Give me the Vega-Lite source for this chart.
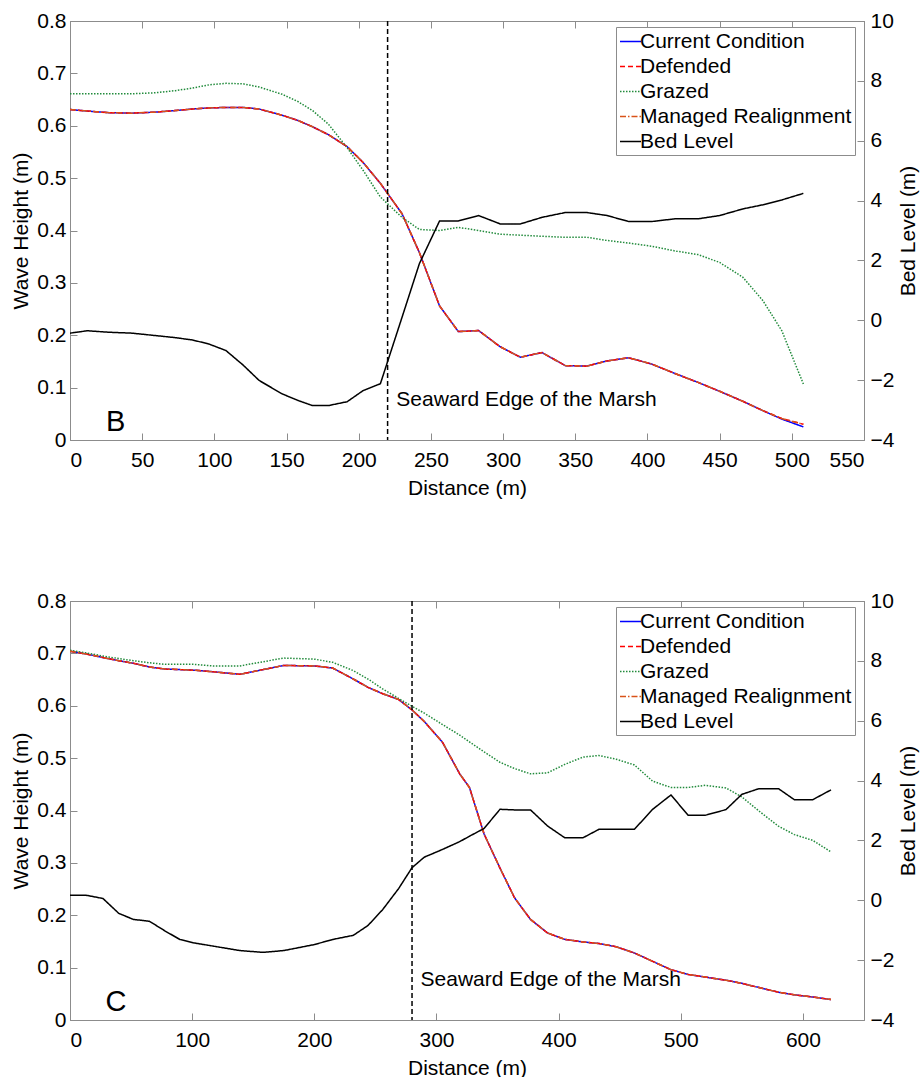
{
  "$schema": "https://vega.github.io/schema/vega-lite/v6.json",
  "padding": {"left": 10, "top": 9, "right": 0, "bottom": 5},
  "datasets": {
    "B": [
      {"d":0,"Current Condition":0.631,"Defended":0.631,"Grazed":0.661,"Managed Realignment":0.631,"Bed Level":-0.43},
      {"d":12,"Current Condition":0.628,"Defended":0.628,"Grazed":0.661,"Managed Realignment":0.628,"Bed Level":-0.35},
      {"d":27,"Current Condition":0.625,"Defended":0.625,"Grazed":0.661,"Managed Realignment":0.625,"Bed Level":-0.40},
      {"d":43,"Current Condition":0.624,"Defended":0.624,"Grazed":0.661,"Managed Realignment":0.624,"Bed Level":-0.43},
      {"d":59,"Current Condition":0.626,"Defended":0.626,"Grazed":0.663,"Managed Realignment":0.626,"Bed Level":-0.51},
      {"d":73,"Current Condition":0.629,"Defended":0.629,"Grazed":0.667,"Managed Realignment":0.629,"Bed Level":-0.58},
      {"d":85,"Current Condition":0.632,"Defended":0.632,"Grazed":0.672,"Managed Realignment":0.632,"Bed Level":-0.66},
      {"d":96,"Current Condition":0.634,"Defended":0.634,"Grazed":0.678,"Managed Realignment":0.634,"Bed Level":-0.79},
      {"d":108,"Current Condition":0.635,"Defended":0.635,"Grazed":0.681,"Managed Realignment":0.635,"Bed Level":-1.01},
      {"d":120,"Current Condition":0.635,"Defended":0.635,"Grazed":0.680,"Managed Realignment":0.635,"Bed Level":-1.50},
      {"d":131,"Current Condition":0.632,"Defended":0.632,"Grazed":0.674,"Managed Realignment":0.632,"Bed Level":-2.01},
      {"d":147,"Current Condition":0.620,"Defended":0.620,"Grazed":0.660,"Managed Realignment":0.620,"Bed Level":-2.46},
      {"d":158,"Current Condition":0.610,"Defended":0.610,"Grazed":0.646,"Managed Realignment":0.610,"Bed Level":-2.68},
      {"d":168,"Current Condition":0.598,"Defended":0.598,"Grazed":0.629,"Managed Realignment":0.598,"Bed Level":-2.85},
      {"d":179,"Current Condition":0.583,"Defended":0.583,"Grazed":0.603,"Managed Realignment":0.583,"Bed Level":-2.85},
      {"d":192,"Current Condition":0.560,"Defended":0.560,"Grazed":0.558,"Managed Realignment":0.560,"Bed Level":-2.72},
      {"d":203,"Current Condition":0.530,"Defended":0.530,"Grazed":0.515,"Managed Realignment":0.530,"Bed Level":-2.35},
      {"d":215,"Current Condition":0.490,"Defended":0.490,"Grazed":0.464,"Managed Realignment":0.490,"Bed Level":-2.12},
      {"d":230,"Current Condition":0.432,"Defended":0.432,"Grazed":0.425,"Managed Realignment":0.432,"Bed Level":0.10},
      {"d":242,"Current Condition":0.358,"Defended":0.358,"Grazed":0.402,"Managed Realignment":0.358,"Bed Level":1.89},
      {"d":256,"Current Condition":0.256,"Defended":0.256,"Grazed":0.400,"Managed Realignment":0.256,"Bed Level":3.32},
      {"d":269,"Current Condition":0.207,"Defended":0.207,"Grazed":0.406,"Managed Realignment":0.207,"Bed Level":3.32},
      {"d":283,"Current Condition":0.209,"Defended":0.209,"Grazed":0.400,"Managed Realignment":0.209,"Bed Level":3.50},
      {"d":298,"Current Condition":0.178,"Defended":0.178,"Grazed":0.393,"Managed Realignment":0.178,"Bed Level":3.22},
      {"d":312,"Current Condition":0.158,"Defended":0.158,"Grazed":0.391,"Managed Realignment":0.158,"Bed Level":3.22},
      {"d":327,"Current Condition":0.167,"Defended":0.167,"Grazed":0.389,"Managed Realignment":0.167,"Bed Level":3.44},
      {"d":343,"Current Condition":0.142,"Defended":0.142,"Grazed":0.387,"Managed Realignment":0.142,"Bed Level":3.60},
      {"d":358,"Current Condition":0.141,"Defended":0.141,"Grazed":0.387,"Managed Realignment":0.141,"Bed Level":3.60},
      {"d":372,"Current Condition":0.151,"Defended":0.151,"Grazed":0.381,"Managed Realignment":0.151,"Bed Level":3.50},
      {"d":387,"Current Condition":0.157,"Defended":0.157,"Grazed":0.376,"Managed Realignment":0.157,"Bed Level":3.30},
      {"d":403,"Current Condition":0.145,"Defended":0.145,"Grazed":0.370,"Managed Realignment":0.145,"Bed Level":3.30},
      {"d":419,"Current Condition":0.127,"Defended":0.127,"Grazed":0.361,"Managed Realignment":0.127,"Bed Level":3.39},
      {"d":435,"Current Condition":0.110,"Defended":0.110,"Grazed":0.354,"Managed Realignment":0.110,"Bed Level":3.39},
      {"d":450,"Current Condition":0.093,"Defended":0.093,"Grazed":0.339,"Managed Realignment":0.093,"Bed Level":3.50},
      {"d":466,"Current Condition":0.074,"Defended":0.074,"Grazed":0.311,"Managed Realignment":0.074,"Bed Level":3.72},
      {"d":480,"Current Condition":0.056,"Defended":0.056,"Grazed":0.266,"Managed Realignment":0.056,"Bed Level":3.86},
      {"d":493,"Current Condition":0.040,"Defended":0.041,"Grazed":0.209,"Managed Realignment":0.041,"Bed Level":4.02},
      {"d":508,"Current Condition":0.025,"Defended":0.030,"Grazed":0.107,"Managed Realignment":0.030,"Bed Level":4.24}
    ],
    "C": [
      {"d":0,"Current Condition":0.704,"Defended":0.704,"Grazed":0.706,"Managed Realignment":0.704,"Bed Level":0.17},
      {"d":13,"Current Condition":0.699,"Defended":0.699,"Grazed":0.701,"Managed Realignment":0.699,"Bed Level":0.17},
      {"d":27,"Current Condition":0.692,"Defended":0.692,"Grazed":0.695,"Managed Realignment":0.692,"Bed Level":0.06},
      {"d":40,"Current Condition":0.686,"Defended":0.686,"Grazed":0.690,"Managed Realignment":0.686,"Bed Level":-0.44},
      {"d":52,"Current Condition":0.681,"Defended":0.681,"Grazed":0.686,"Managed Realignment":0.681,"Bed Level":-0.64},
      {"d":65,"Current Condition":0.674,"Defended":0.674,"Grazed":0.682,"Managed Realignment":0.674,"Bed Level":-0.70},
      {"d":78,"Current Condition":0.670,"Defended":0.670,"Grazed":0.679,"Managed Realignment":0.670,"Bed Level":-1.03},
      {"d":90,"Current Condition":0.669,"Defended":0.669,"Grazed":0.679,"Managed Realignment":0.669,"Bed Level":-1.31},
      {"d":101,"Current Condition":0.668,"Defended":0.668,"Grazed":0.679,"Managed Realignment":0.668,"Bed Level":-1.42},
      {"d":117,"Current Condition":0.665,"Defended":0.665,"Grazed":0.676,"Managed Realignment":0.665,"Bed Level":-1.53},
      {"d":139,"Current Condition":0.660,"Defended":0.660,"Grazed":0.676,"Managed Realignment":0.660,"Bed Level":-1.68},
      {"d":158,"Current Condition":0.669,"Defended":0.669,"Grazed":0.684,"Managed Realignment":0.669,"Bed Level":-1.74},
      {"d":175,"Current Condition":0.677,"Defended":0.677,"Grazed":0.691,"Managed Realignment":0.677,"Bed Level":-1.68},
      {"d":200,"Current Condition":0.676,"Defended":0.676,"Grazed":0.689,"Managed Realignment":0.676,"Bed Level":-1.48},
      {"d":215,"Current Condition":0.672,"Defended":0.672,"Grazed":0.683,"Managed Realignment":0.672,"Bed Level":-1.31},
      {"d":232,"Current Condition":0.651,"Defended":0.651,"Grazed":0.667,"Managed Realignment":0.651,"Bed Level":-1.17},
      {"d":244,"Current Condition":0.635,"Defended":0.635,"Grazed":0.651,"Managed Realignment":0.635,"Bed Level":-0.84},
      {"d":256,"Current Condition":0.623,"Defended":0.623,"Grazed":0.632,"Managed Realignment":0.623,"Bed Level":-0.31},
      {"d":269,"Current Condition":0.612,"Defended":0.612,"Grazed":0.614,"Managed Realignment":0.612,"Bed Level":0.39},
      {"d":280,"Current Condition":0.592,"Defended":0.592,"Grazed":0.599,"Managed Realignment":0.592,"Bed Level":1.09},
      {"d":290,"Current Condition":0.570,"Defended":0.570,"Grazed":0.586,"Managed Realignment":0.570,"Bed Level":1.44},
      {"d":305,"Current Condition":0.530,"Defended":0.530,"Grazed":0.564,"Managed Realignment":0.530,"Bed Level":1.70},
      {"d":319,"Current Condition":0.470,"Defended":0.470,"Grazed":0.544,"Managed Realignment":0.470,"Bed Level":1.96},
      {"d":327,"Current Condition":0.444,"Defended":0.444,"Grazed":0.531,"Managed Realignment":0.444,"Bed Level":2.14},
      {"d":339,"Current Condition":0.355,"Defended":0.355,"Grazed":0.512,"Managed Realignment":0.355,"Bed Level":2.40},
      {"d":352,"Current Condition":0.290,"Defended":0.290,"Grazed":0.492,"Managed Realignment":0.290,"Bed Level":3.04},
      {"d":364,"Current Condition":0.233,"Defended":0.233,"Grazed":0.480,"Managed Realignment":0.233,"Bed Level":3.02},
      {"d":377,"Current Condition":0.192,"Defended":0.192,"Grazed":0.470,"Managed Realignment":0.192,"Bed Level":3.02},
      {"d":391,"Current Condition":0.166,"Defended":0.166,"Grazed":0.472,"Managed Realignment":0.166,"Bed Level":2.48},
      {"d":405,"Current Condition":0.154,"Defended":0.154,"Grazed":0.488,"Managed Realignment":0.154,"Bed Level":2.09},
      {"d":420,"Current Condition":0.149,"Defended":0.149,"Grazed":0.502,"Managed Realignment":0.149,"Bed Level":2.09},
      {"d":433,"Current Condition":0.146,"Defended":0.146,"Grazed":0.505,"Managed Realignment":0.146,"Bed Level":2.37},
      {"d":447,"Current Condition":0.140,"Defended":0.140,"Grazed":0.498,"Managed Realignment":0.140,"Bed Level":2.37},
      {"d":462,"Current Condition":0.128,"Defended":0.128,"Grazed":0.487,"Managed Realignment":0.128,"Bed Level":2.37},
      {"d":477,"Current Condition":0.112,"Defended":0.112,"Grazed":0.456,"Managed Realignment":0.112,"Bed Level":3.04},
      {"d":492,"Current Condition":0.096,"Defended":0.096,"Grazed":0.444,"Managed Realignment":0.096,"Bed Level":3.52},
      {"d":506,"Current Condition":0.087,"Defended":0.087,"Grazed":0.444,"Managed Realignment":0.087,"Bed Level":2.84},
      {"d":520,"Current Condition":0.082,"Defended":0.082,"Grazed":0.448,"Managed Realignment":0.082,"Bed Level":2.84},
      {"d":537,"Current Condition":0.076,"Defended":0.076,"Grazed":0.443,"Managed Realignment":0.076,"Bed Level":3.03},
      {"d":550,"Current Condition":0.070,"Defended":0.070,"Grazed":0.426,"Managed Realignment":0.070,"Bed Level":3.54},
      {"d":564,"Current Condition":0.062,"Defended":0.062,"Grazed":0.399,"Managed Realignment":0.062,"Bed Level":3.73},
      {"d":580,"Current Condition":0.053,"Defended":0.053,"Grazed":0.370,"Managed Realignment":0.053,"Bed Level":3.73},
      {"d":593,"Current Condition":0.048,"Defended":0.048,"Grazed":0.354,"Managed Realignment":0.048,"Bed Level":3.36},
      {"d":608,"Current Condition":0.044,"Defended":0.044,"Grazed":0.343,"Managed Realignment":0.044,"Bed Level":3.36},
      {"d":623,"Current Condition":0.039,"Defended":0.039,"Grazed":0.321,"Managed Realignment":0.039,"Bed Level":3.69}
    ]
  },
  "bounds": "flush",
  "spacing": 161,
  "resolve": {"scale": {"color": "independent", "strokeDash": "independent"}},
  "vconcat": [
    {
      "width": 794,
      "height": 419,
      "data": {"name": "B"},
      "transform": [{"fold": ["Current Condition", "Defended", "Grazed", "Managed Realignment", "Bed Level"], "as": ["series", "value"]}],
      "layer": [
        {
          "layer": [
            {
              "transform": [{"filter": "datum.series !== 'Bed Level'"}],
              "mark": {"type": "line", "strokeWidth": 1.5, "clip": true},
              "encoding": {
                "x": {"field": "d", "type": "quantitative", "scale": {"domain": [0, 550], "nice": false}, "axis": {"orient": "bottom", "title": "Distance (m)", "values": [0,50,100,150,200,250,300,350,400,450,500,550]}},
                "y": {"field": "value", "type": "quantitative", "scale": {"domain": [0, 0.8], "nice": false}, "axis": {"orient": "left", "title": "Wave Height (m)", "values": [0,0.1,0.2,0.3,0.4,0.5,0.6,0.7,0.8], "format": "~g"}},
                "color": {"field": "series", "type": "nominal", "scale": {"domain": ["Current Condition", "Defended", "Grazed", "Managed Realignment", "Bed Level"], "range": ["#0000ff", "#ff0000", "#228b3c", "#d95319", "#000000"]}, "legend": {"title": null, "orient": "none", "legendX": 546, "legendY": 6}},
                "strokeDash": {"field": "series", "type": "nominal", "scale": {"domain": ["Current Condition", "Defended", "Grazed", "Managed Realignment", "Bed Level"], "range": [[1, 0], [5, 3], [1.5, 1.5], [6, 2, 1.5, 2], [1, 0]]}, "legend": {"title": null, "orient": "none", "legendX": 546, "legendY": 6}}
              }
            },
            {
              "data": {"values": [{}]},
              "mark": {"type": "rule", "color": "#000000", "strokeWidth": 1.5, "strokeDash": [5, 3]},
              "encoding": {"x": {"datum": 220, "type": "quantitative"}}
            },
            {
              "data": {"values": [{}]},
              "mark": {"type": "text", "align": "left", "baseline": "alphabetic", "fontSize": 21, "font": "Liberation Sans", "color": "#000000", "text": "Seaward Edge of the Marsh"},
              "encoding": {"x": {"datum": 226, "type": "quantitative"}, "y": {"datum": 0.065, "type": "quantitative"}}
            },
            {
              "data": {"values": [{}]},
              "mark": {"type": "text", "align": "left", "baseline": "alphabetic", "fontSize": 29, "font": "Liberation Sans", "color": "#000000", "text": "B"},
              "encoding": {"x": {"datum": 25, "type": "quantitative"}, "y": {"datum": 0.017, "type": "quantitative"}}
            }
          ]
        },
        {
          "transform": [{"filter": "datum.series === 'Bed Level'"}],
          "mark": {"type": "line", "strokeWidth": 1.5, "clip": true},
          "encoding": {
            "x": {"field": "d", "type": "quantitative", "axis": {"orient": "top", "labels": false, "title": null, "values": [0,50,100,150,200,250,300,350,400,450,500,550]}},
            "y": {"field": "value", "type": "quantitative", "scale": {"domain": [-4, 10], "nice": false}, "axis": {"orient": "right", "title": "Bed Level (m)", "values": [-4,-2,0,2,4,6,8,10], "titleAngle": 270, "titleBaseline": "top", "titlePadding": 4}},
            "color": {"field": "series", "type": "nominal"},
            "strokeDash": {"field": "series", "type": "nominal"}
          }
        }
      ],
      "resolve": {"scale": {"y": "independent"}, "axis": {"x": "independent"}}
    },
    {
      "width": 794,
      "height": 419,
      "data": {"name": "C"},
      "transform": [{"fold": ["Current Condition", "Defended", "Grazed", "Managed Realignment", "Bed Level"], "as": ["series", "value"]}],
      "layer": [
        {
          "layer": [
            {
              "transform": [{"filter": "datum.series !== 'Bed Level'"}],
              "mark": {"type": "line", "strokeWidth": 1.5, "clip": true},
              "encoding": {
                "x": {"field": "d", "type": "quantitative", "scale": {"domain": [0, 650], "nice": false}, "axis": {"orient": "bottom", "title": "Distance (m)", "values": [0,100,200,300,400,500,600]}},
                "y": {"field": "value", "type": "quantitative", "scale": {"domain": [0, 0.8], "nice": false}, "axis": {"orient": "left", "title": "Wave Height (m)", "values": [0,0.1,0.2,0.3,0.4,0.5,0.6,0.7,0.8], "format": "~g"}},
                "color": {"field": "series", "type": "nominal", "scale": {"domain": ["Current Condition", "Defended", "Grazed", "Managed Realignment", "Bed Level"], "range": ["#0000ff", "#ff0000", "#228b3c", "#d95319", "#000000"]}, "legend": {"title": null, "orient": "none", "legendX": 546, "legendY": 6}},
                "strokeDash": {"field": "series", "type": "nominal", "scale": {"domain": ["Current Condition", "Defended", "Grazed", "Managed Realignment", "Bed Level"], "range": [[1, 0], [5, 3], [1.5, 1.5], [6, 2, 1.5, 2], [1, 0]]}, "legend": {"title": null, "orient": "none", "legendX": 546, "legendY": 6}}
              }
            },
            {
              "data": {"values": [{}]},
              "mark": {"type": "rule", "color": "#000000", "strokeWidth": 1.5, "strokeDash": [5, 3]},
              "encoding": {"x": {"datum": 280, "type": "quantitative"}}
            },
            {
              "data": {"values": [{}]},
              "mark": {"type": "text", "align": "left", "baseline": "alphabetic", "fontSize": 21, "font": "Liberation Sans", "color": "#000000", "text": "Seaward Edge of the Marsh"},
              "encoding": {"x": {"datum": 287, "type": "quantitative"}, "y": {"datum": 0.064, "type": "quantitative"}}
            },
            {
              "data": {"values": [{}]},
              "mark": {"type": "text", "align": "left", "baseline": "alphabetic", "fontSize": 29, "font": "Liberation Sans", "color": "#000000", "text": "C"},
              "encoding": {"x": {"datum": 29, "type": "quantitative"}, "y": {"datum": 0.017, "type": "quantitative"}}
            }
          ]
        },
        {
          "transform": [{"filter": "datum.series === 'Bed Level'"}],
          "mark": {"type": "line", "strokeWidth": 1.5, "clip": true},
          "encoding": {
            "x": {"field": "d", "type": "quantitative", "axis": {"orient": "top", "labels": false, "title": null, "values": [0,100,200,300,400,500,600]}},
            "y": {"field": "value", "type": "quantitative", "scale": {"domain": [-4, 10], "nice": false}, "axis": {"orient": "right", "title": "Bed Level (m)", "values": [-4,-2,0,2,4,6,8,10], "titleAngle": 270, "titleBaseline": "top", "titlePadding": 4}},
            "color": {"field": "series", "type": "nominal"},
            "strokeDash": {"field": "series", "type": "nominal"}
          }
        }
      ],
      "resolve": {"scale": {"y": "independent"}, "axis": {"x": "independent"}}
    }
  ],
  "config": {
    "font": "Liberation Sans",
    "view": {"stroke": "#8c8c8c", "strokeWidth": 1},
    "axis": {
      "grid": false,
      "domainColor": "#8c8c8c",
      "tickColor": "#8c8c8c",
      "labelColor": "#000000",
      "titleColor": "#000000",
      "labelFont": "Liberation Sans",
      "titleFont": "Liberation Sans",
      "labelFontSize": 21,
      "titleFontSize": 21,
      "titleFontWeight": "normal",
      "tickSize": -7,
      "labelPadding": 13
    },
    "axisLeft": {"titlePadding": 5, "labelPadding": 11},
    "axisBottom": {"titlePadding": 7, "labelPadding": 16},
    "legend": {
      "fillColor": "#ffffff",
      "strokeColor": "#8c8c8c",
      "padding": 3,
      "labelFont": "Liberation Sans",
      "labelFontSize": 21,
      "labelColor": "#000000",
      "labelLimit": 400,
      "symbolType": "stroke",
      "symbolSize": 441,
      "symbolStrokeWidth": 1.5,
      "labelOffset": -2,
      "rowPadding": 3
    }
  }
}
